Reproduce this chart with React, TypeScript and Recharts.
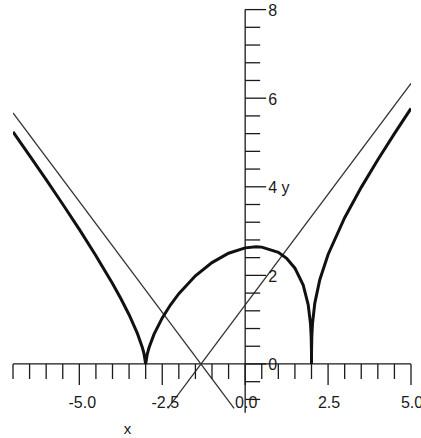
import React from "react";
import { LineChart, Line, XAxis, YAxis, ReferenceLine, ReferenceDot } from "recharts";

// curve |(x+3)^2 (x-2)|^(1/3)
const curveX = [
	-7, -6.5, -6, -5.5, -5, -4.5, -4, -3.75, -3.5, -3.25, -3.1, -3.05, -3, -2.95, -2.9, -2.75, -2.5,
	-2.25, -2, -1.5, -1, -0.5, 0, 0.333, 0.5, 1, 1.25, 1.5, 1.75, 1.9, 1.97, 1.99, 1.999, 2, 2.001,
	2.01, 2.03, 2.1, 2.25, 2.5, 3, 3.5, 4, 4.5, 5,
];
const curveY = [
	5.24, 4.703, 4.16, 3.606, 3.037, 2.445, 1.817, 1.479, 1.112, 0.69, 0.371, 0.233, 0, 0.231, 0.366,
	0.667, 1.04, 1.337, 1.587, 1.99, 2.289, 2.5, 2.621, 2.646, 2.638, 2.52, 2.384, 2.163, 1.78, 1.339,
	0.905, 0.629, 0.292, 0, 0.292, 0.631, 0.911, 1.375, 1.903, 2.473, 3.302, 3.987, 4.61, 5.2, 5.769,
];

// asymptotes
const riseX = [-2.333, 5];
const riseY = [-1, 6.333];
const fallX = [-7, -0.333];
const fallY = [5.667, -1];

const xMajor = [-5, -2.5, 0, 2.5, 5];
const xLabels = ["-5.0", "-2.5", "0.0", "2.5", "5.0"];
const xMinor = [-7, -6.5, -6, -5.5, -4.5, -4, -3.5, -3, -2, -1.5, -1, -0.5, 0.5, 1, 1.5, 2, 3, 3.5, 4, 4.5];

const yMajor = [0, 2, 4, 6, 8];
const yLabels = ["0", "2", "4 y", "6", "8"];
const yMinor = [-0.8, -0.4, 0.4, 0.8, 1.2, 1.6, 2.4, 2.8, 3.2, 3.6, 4.4, 4.8, 5.2, 5.6, 6.4, 6.8, 7.2, 7.6];

const curveData = curveX.map((x, i) => ({ x, y: curveY[i] }));
const riseData = riseX.map((x, i) => ({ x, y: riseY[i] }));
const fallData = fallX.map((x, i) => ({ x, y: fallY[i] }));

const INK = "#1a1a1a";
const FONT = "'Liberation Sans', Arial, sans-serif";

function downTick(len: number) {
	return (p: any) => (
		<line x1={p.cx} y1={p.cy} x2={p.cx} y2={p.cy + len} stroke={INK} strokeWidth={1.3} />
	);
}

function rightTick(len: number) {
	return (p: any) => (
		<line x1={p.cx} y1={p.cy} x2={p.cx + len} y2={p.cy} stroke={INK} strokeWidth={1.3} />
	);
}

function xLabel(text: string, dx: number) {
	return (p: any) => (
		<text x={p.cx + dx} y={p.cy + 39} textAnchor="middle" dominantBaseline="central" fontSize={16} fontFamily={FONT} fill={INK}>
			{text}
		</text>
	);
}

function yLabel(text: string) {
	return (p: any) => (
		<text x={p.cx + 23} y={p.cy + 1} textAnchor="start" dominantBaseline="central" fontSize={16} fontFamily={FONT} fill={INK}>
			{text}
		</text>
	);
}

export default function App() {
	return (
		<div style={{ position: "absolute", left: 0, top: 0, background: "#fff" }}>
			<LineChart width={421} height={438} margin={{ top: 9.6, right: 10, bottom: 25.3, left: 13 }}>
				<XAxis dataKey="x" type="number" domain={[-7, 5]} hide allowDataOverflow />
				<YAxis dataKey="y" type="number" domain={[-1.1, 8]} hide allowDataOverflow />
				<ReferenceLine y={0} stroke={INK} strokeWidth={1.3} />
				<ReferenceLine x={0} stroke={INK} strokeWidth={1.3} />
				{xMinor.map((t) => (
					<ReferenceDot key={`xm${t}`} x={t} y={0} r={0} ifOverflow="visible" shape={downTick(15)} />
				))}
				{xMajor.map((t) => (
					<ReferenceDot key={`xM${t}`} x={t} y={0} r={0} ifOverflow="visible" shape={downTick(21)} />
				))}
				{xMajor.map((t, i) => (
					<ReferenceDot key={`xl${t}`} x={t} y={0} r={0} ifOverflow="visible" shape={xLabel(xLabels[i], t < 0 ? 3 : 1)} />
				))}
				{yMinor.map((t) => (
					<ReferenceDot key={`ym${t}`} x={0} y={t} r={0} ifOverflow="visible" shape={rightTick(15)} />
				))}
				{yMajor.map((t) => (
					<ReferenceDot key={`yM${t}`} x={0} y={t} r={0} ifOverflow="visible" shape={rightTick(21)} />
				))}
				{yMajor.map((t, i) => (
					<ReferenceDot key={`yl${t}`} x={0} y={t} r={0} ifOverflow="visible" shape={yLabel(yLabels[i])} />
				))}
				<ReferenceDot
					x={-3.55}
					y={-1.46}
					r={0}
					ifOverflow="visible"
					shape={(p: any) => (
						<text x={p.cx} y={p.cy} textAnchor="middle" dominantBaseline="central" fontSize={15} fontFamily={FONT} fill={INK}>
							x
						</text>
					)}
				/>
				<Line data={fallData} dataKey="y" type="linear" stroke="#333" strokeWidth={1.3} dot={false} isAnimationActive={false} />
				<Line data={riseData} dataKey="y" type="linear" stroke="#333" strokeWidth={1.3} dot={false} isAnimationActive={false} />
				<Line data={curveData} dataKey="y" type="linear" stroke="#111" strokeWidth={3} dot={false} isAnimationActive={false} />
			</LineChart>
		</div>
	);
}
